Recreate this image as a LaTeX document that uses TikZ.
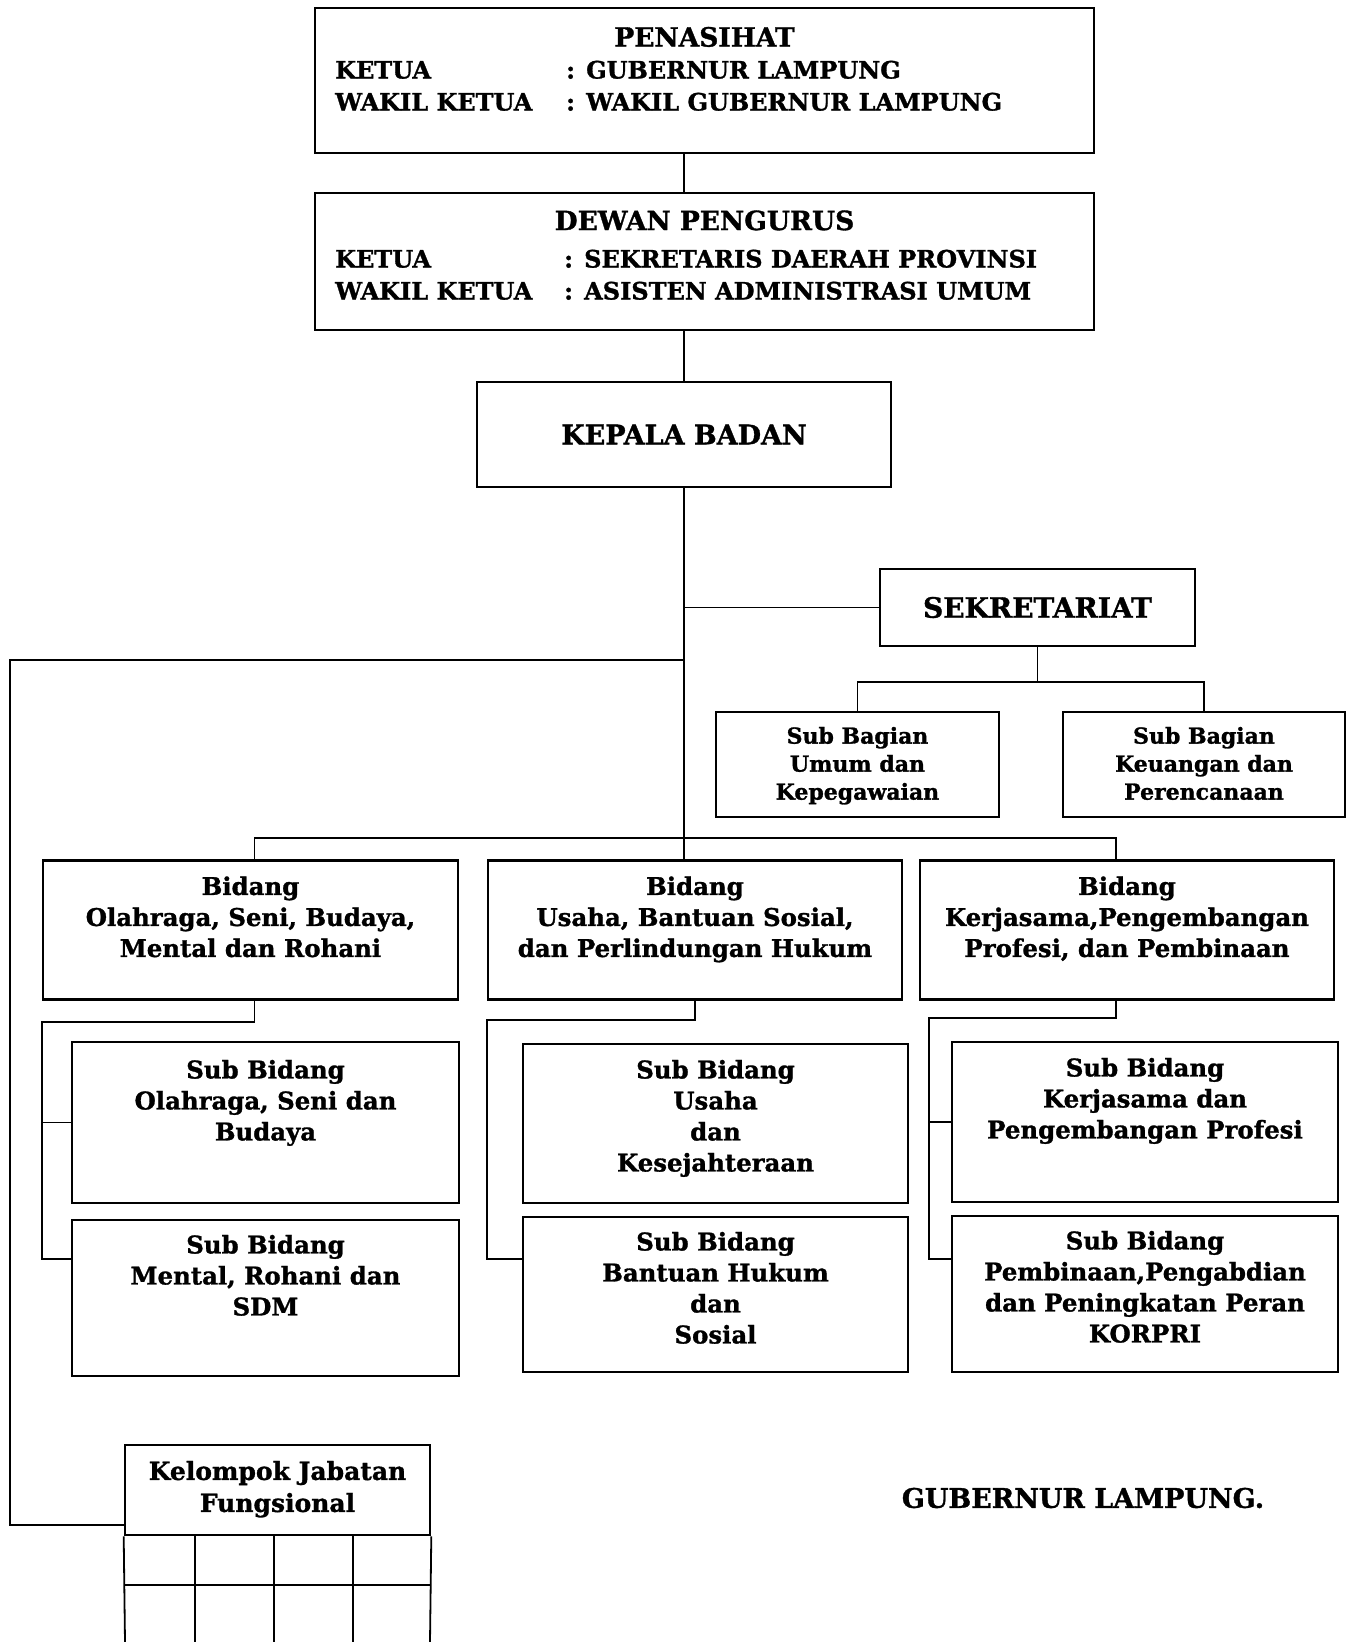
\documentclass[tikz,border=0pt]{standalone}
\usepackage{fontspec}
\setmainfont[BoldFeatures={FakeBold=1.2}]{DejaVu Serif}
\usetikzlibrary{positioning,calc}

\tikzset{
  box/.style={draw, line width=2.6pt, inner sep=0pt},
  sz/.style 2 args={minimum width=#1pt, minimum height=#2pt},
  conn/.style={line width=1.8pt},
  head/.style={font=\bfseries\fontsize{24}{32}\selectfont, inner sep=0pt},
  title/.style={font=\bfseries\fontsize{26.5}{32}\selectfont, inner sep=0pt},
  big/.style={font=\bfseries\fontsize{27}{31}\selectfont, inner sep=0pt},
  txt/.style={font=\bfseries\fontsize{24.4}{31}\selectfont, align=center, inner sep=0pt},
  small/.style={font=\bfseries\fontsize{22}{28}\selectfont, align=center, inner sep=0pt},
}

\begin{document}
\begin{tikzpicture}[x=1pt, y=-1pt]
  \useasboundingbox (0,0) rectangle (1352,1642);

  % penasihat and dewan pengurus
  \node[box, sz={779}{145}] (pen) at (704.5,80.5) {};
  \node[title, below=20pt of pen.north] (penT) {PENASIHAT};
  \node[head, anchor=base west] (penR) at (335,78.5)
    {\begin{tabular}[t]{@{}p{231pt}@{}l@{}}KETUA & : GUBERNUR LAMPUNG\\ WAKIL KETUA & : WAKIL GUBERNUR LAMPUNG\end{tabular}};

  \node[box, sz={779}{137}] (dew) at (704.5,261.5) {};
  \node[title, below=18.5pt of dew.north] (dewT) {DEWAN PENGURUS};
  \node[head, anchor=base west] (dewR) at (335,267.5)
    {\begin{tabular}[t]{@{}p{229pt}@{}l@{}}KETUA & : SEKRETARIS DAERAH PROVINSI\\ WAKIL KETUA & : ASISTEN ADMINISTRASI UMUM\end{tabular}};

  \node[box, big, sz={414}{105}] (kb) at (684,434.5) {KEPALA BADAN};

  % sekretariat
  \node[box, big, font=\bfseries\fontsize{28}{31}\selectfont, sz={315}{77}] (sek) at (1037.5,607.5) {SEKRETARIAT};
  \node[box, sz={283}{105}] (sbu) at (857.5,764.5) {};
  \node[small, below=16pt of sbu.north] {Sub Bagian\\Umum dan\\Kepegawaian};
  \node[box, sz={282}{105}] (sbk) at (1204,764.5) {};
  \node[small, below=16pt of sbk.north] {Sub Bagian\\Keuangan dan\\Perencanaan};

  % bidang
  \node[box, sz={415}{139}] (bd1) at (250.5,930) {};
  \node[txt, below=17pt of bd1.north] {Bidang\\Olahraga, Seni, Budaya,\\Mental dan Rohani};
  \node[box, sz={414}{139}] (bd2) at (695,930) {};
  \node[txt, below=17pt of bd2.north] {Bidang\\Usaha, Bantuan Sosial,\\dan Perlindungan Hukum};
  \node[box, sz={414}{139}] (bd3) at (1127,930) {};
  \node[txt, below=17pt of bd3.north] {Bidang\\Kerjasama,Pengembangan\\Profesi, dan Pembinaan};

  % sub bidang
  \node[box, sz={387}{161}] (sb11) at (265.5,1122.5) {};
  \node[txt, below=19pt of sb11.north] {Sub Bidang\\Olahraga, Seni dan\\Budaya};
  \node[box, sz={387}{156}] (sb12) at (265.5,1298) {};
  \node[txt, below=16pt of sb12.north] {Sub Bidang\\Mental, Rohani dan\\SDM};
  \node[box, sz={385}{159}] (sb21) at (715.5,1123.5) {};
  \node[txt, below=17pt of sb21.north] {Sub Bidang\\Usaha\\dan\\Kesejahteraan};
  \node[box, sz={385}{155}] (sb22) at (715.5,1294.5) {};
  \node[txt, below=16pt of sb22.north] {Sub Bidang\\Bantuan Hukum\\dan\\Sosial};
  \node[box, sz={386}{160}] (sb31) at (1145,1122) {};
  \node[txt, below=17pt of sb31.north] {Sub Bidang\\Kerjasama dan\\Pengembangan Profesi};
  \node[box, sz={386}{156}] (sb32) at (1145,1294) {};
  \node[txt, below=16pt of sb32.north] {Sub Bidang\\Pembinaan,Pengabdian\\dan Peningkatan Peran\\KORPRI};

  % kelompok jabatan fungsional
  \node[box, sz={305}{90}] (kfj) at (277.5,1490) {};
  \node[txt, font=\bfseries\fontsize{25}{32}\selectfont, below=17pt of kfj.north] {Kelompok Jabatan\\Fungsional};
  \draw[conn] (kfj.south west) -- (125,1642) (kfj.south east) -- (430,1642);
  \draw[conn] (125,1585) -- (430,1585);
  \foreach \cx in {195,274,353}
    \draw[conn] (\cx,1535) -- (\cx,1642);

  \node[big] (gub) at (1083,1498) {GUBERNUR LAMPUNG.};

  % lines
  \coordinate (bus) at (684,838);
  \coordinate (lt) at (10,660);
  \draw[conn] (kb |- pen.south) -- (kb |- dew.north);
  \draw[conn] (kb |- dew.south) -- (kb.north);
  \draw[conn] (kb.south) -- (bus) -- (kb |- bd2.north);
  \draw[conn] (kb |- sek.west) -- (sek.west);
  \draw[conn] (kb |- lt) -- (lt) |- ($(kfj.south west)+(0,-11)$);
  \path (sek.south) ++(0,35) coordinate (sekJ);
  \draw[conn] (sek.south) -- (sekJ);
  \draw[conn] (sbu.north) |- (sekJ) -| (sbk.north);
  \draw[conn] ($(bd1.north)+(4,0)$) |- (bus) -| ($(bd3.north)+(-11,0)$);

  % sub bidang brackets
  \path ($(bd1.south)+(4,0)$) ++(0,21) coordinate (j1);
  \path (bd2.south) ++(0,19) coordinate (j2);
  \path ($(bd3.south)+(-11,0)$) ++(0,17) coordinate (j3);
  \draw[conn] (j1 |- bd1.south) -- (j1) -- (j1 -| bd1.west) |- ($(sb12.north west)+(0,40)$);
  \draw[conn] (j1 -| bd1.west) |- (sb11.west);
  \draw[conn] (bd2.south) -- (j2) -- (j2 -| bd2.west) |- ($(sb22.north west)+(0,43)$);
  \draw[conn] (j3 |- bd3.south) -- (j3) -- ($(j3 -| bd3.west)+(10,0)$) |- ($(sb32.north west)+(0,44)$);
  \draw[conn] ($(j3 -| bd3.west)+(10,0)$) |- (sb31.west);
\end{tikzpicture}
\end{document}
